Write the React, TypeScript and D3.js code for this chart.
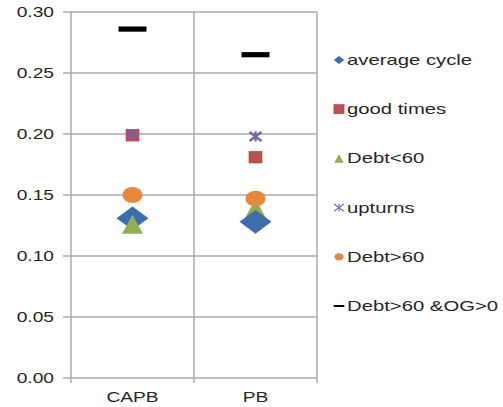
import React from "react";
import * as d3 from "d3";

const categories = ["CAPB", "PB"];
const seriesNames = ["average cycle", "good times", "Debt<60", "upturns", "Debt>60", "Debt>60 &OG>0"];
const averageCycle = [0.131, 0.128];
const goodTimes = [0.199, 0.181];
const debtBelow60 = [0.126, 0.139];
const upturns = [0.2, 0.198];
const debtAbove60 = [0.15, 0.147];
const debtAbove60OG = [0.286, 0.265];
const yTicks = [0, 0.05, 0.1, 0.15, 0.2, 0.25, 0.3];

const seriesValues = [averageCycle, goodTimes, debtBelow60, upturns, debtAbove60, debtAbove60OG];
const colors = ["#3c6db0", "#c0504d", "#8fb04e", "#7b62a3", "#e8883a", "#000000"];
const shapes = ["diamond", "square", "triangle", "star", "circle", "dash"];
// drawing order (index into series) per category
const zOrder = [
  [1, 3, 0, 2, 4, 5],
  [1, 3, 2, 0, 4, 5],
];

const W = 503, H = 407;
const left = 71, right = 317, top = 12, bottom = 378;
const SX = 1.37;
const FONT = "Liberation Sans, Arial, sans-serif";
const TEXT = "#262626";
const GRID = "#ababab";

function Marker({ shape, color, x, y, k }: { shape: string; color: string; x: number; y: number; k: number }) {
  if (shape === "diamond") {
    const w = 16 * k, h = 11.8 * k;
    return <path d={`M${x - w},${y}L${x},${y - h}L${x + w},${y}L${x},${y + h}Z`} fill={color} />;
  }
  if (shape === "square") {
    const w = 6.5 * k, h = 5.8 * k;
    return <rect x={x - w} y={y - h} width={2 * w} height={2 * h} fill={color} stroke="#a8403d" strokeWidth={0.6} />;
  }
  if (shape === "triangle") {
    const w = 10.5 * k, h = 9.5 * k;
    return <path d={`M${x},${y - h}L${x + w},${y + h}L${x - w},${y + h}Z`} fill={color} />;
  }
  if (shape === "star") {
    const w = 6 * k, h = 4.5 * k;
    return (
      <g stroke={color} strokeWidth={k > 0.85 ? 2.4 : 1.1} fill="none">
        <line x1={x - w} y1={y - h} x2={x + w} y2={y + h} />
        <line x1={x - w} y1={y + h} x2={x + w} y2={y - h} />
        <line x1={x} y1={y - h * 1.1} x2={x} y2={y + h * 1.1} />
      </g>
    );
  }
  if (shape === "circle") {
    return <ellipse cx={x} cy={y} rx={10 * k} ry={8 * k} fill={color} />;
  }
  const w = 14 * k, h = 2.6 * k;
  return <rect x={x - w} y={y - h} width={2 * w} height={2 * h} fill={color} />;
}

function STxt({ x, y, anchor, children, size = 14 }: any) {
  return (
    <text
      transform={`translate(${x},${y}) scale(${SX},1)`}
      textAnchor={anchor}
      dominantBaseline="central"
      fontFamily={FONT}
      fontSize={size}
      fill={TEXT}
    >
      {children}
    </text>
  );
}

export default function App() {
  const y = d3.scaleLinear().domain([0, 0.3]).range([bottom, top]);
  const x = d3.scaleBand().domain(categories).range([left, right]).padding(0);
  const bounds = [left, ...categories.map((c) => (x(c) as number) + x.bandwidth())];
  const legendY = d3.scalePoint().domain(seriesNames).range([60, 306]);

  return (
    <svg width={W} height={H} style={{ position: "absolute", left: 0, top: 0, background: "#fff" }}>
      {yTicks.map((t) => (
        <line key={"g" + t} x1={63} x2={right} y1={y(t)} y2={y(t)} stroke={GRID} strokeWidth={1.5} />
      ))}
      {bounds.map((b, i) => (
        <line key={"v" + i} x1={b} x2={b} y1={top} y2={bottom + 5} stroke={GRID} strokeWidth={1.5} />
      ))}
      {yTicks.map((t) => (
        <STxt key={"t" + t} x={54} y={y(t)} anchor="end">
          {t.toFixed(2)}
        </STxt>
      ))}
      {categories.map((c) => (
        <STxt key={"c" + c} x={(x(c) as number) + x.bandwidth() / 2} y={397} anchor="middle">
          {c}
        </STxt>
      ))}
      {categories.map((c, ci) =>
        zOrder[ci].map((si) => (
          <Marker
            key={c + si}
            shape={shapes[si]}
            color={colors[si]}
            x={(x(c) as number) + x.bandwidth() / 2}
            y={y(seriesValues[si][ci])}
            k={1}
          />
        ))
      )}
      {seriesNames.map((s, i) => {
        const ly = legendY(s) as number;
        const k = shapes[i] === "dash" ? 0.38 : shapes[i] === "square" ? 0.78 : shapes[i] === "diamond" ? 0.33 : shapes[i] === "star" ? 0.8 : 0.45;
        return (
          <g key={"l" + s}>
            <Marker shape={shapes[i]} color={colors[i]} x={339} y={ly} k={k} />
            <STxt x={347} y={ly} anchor="start" size={14.8}>
              {s}
            </STxt>
          </g>
        );
      })}
    </svg>
  );
}
